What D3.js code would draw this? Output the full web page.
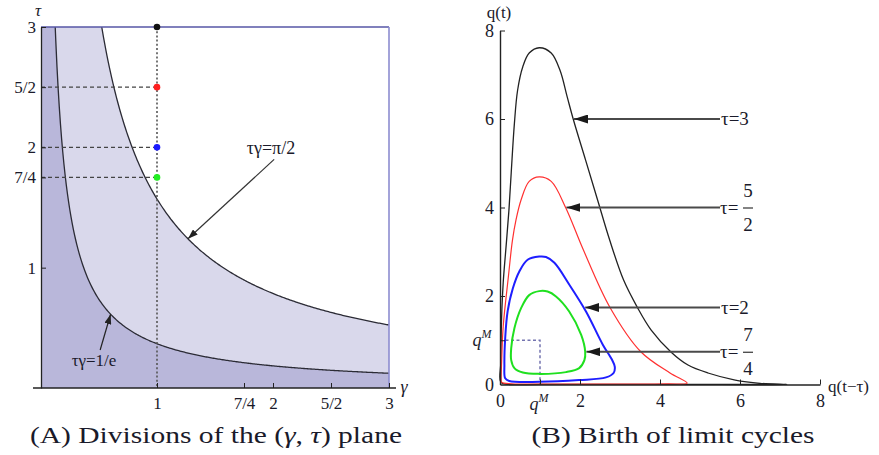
<!DOCTYPE html>
<html>
<head>
<meta charset="utf-8">
<script src="https://cdn.jsdelivr.net/npm/d3@7"></script>
<style>
  html, body { margin: 0; padding: 0; background: #fff; }
  svg { display: block; }
  text { font-family: "Liberation Serif", "Times New Roman", Times, serif; fill: #1a1a2a; }
</style>
</head>
<body>
<svg id="fig" width="879" height="455"></svg>
<script>
const SERIF = '"Liberation Serif", "Times New Roman", Times, serif';

// ---------- Panel A: divisions of the (gamma, tau) plane ----------
const gammaTicks = [1, 1.75, 2, 2.5, 3];
const gammaTickLabels = ["1", "7/4", "2", "5/2", "3"];
const tauTicks = [1, 1.75, 2, 2.5, 3];
const tauTickLabels = ["1", "7/4", "2", "5/2", "3"];
// boundary curves  tau * gamma = const
const boundaryConsts = [1 / Math.E, Math.PI / 2];
const boundaryLabels = ["τγ=1/e", "τγ=π/2"];
// delays marked on the line gamma = 1
const markedTau = [3, 2.5, 2, 1.75];
const markedColors = ["#111111", "#ff2020", "#1a1aff", "#22ee22"];

// ---------- Panel B: limit cycles in the (q(t-tau), q(t)) plane ----------
const qTicks = [0, 2, 4, 6, 8];
const qM = 1;
const cycleTau3 = [
  [0.98,7.61],[1.28,7.49],[1.5,7.1],[1.68,6.5],[1.83,6.0],[2.14,5.07],[2.44,4.17],
  [2.74,3.27],[3.09,2.36],[3.43,1.75],[3.78,1.23],[4.28,0.73],[4.7,0.44],[5.2,0.26],
  [5.88,0.1],[6.5,0.027],[7.17,0.002],[5.5,0.002],[3,0.002],[1,0.003],[0.2,0.005],
  [0.02,0.05],[0.02,0.5],[0.04,1.5],[0.08,2.3],[0.15,3.1],[0.22,3.9],[0.28,4.78],
  [0.36,5.9],[0.44,6.65],[0.57,7.18],[0.73,7.49]
];
const cycleTau52 = [
  [0.98,4.69],[1.28,4.59],[1.64,4.0],[2.08,3.05],[2.75,1.74],[3.52,0.74],[4.25,0.26],
  [4.68,0.03],[4.2,0.015],[3,0.01],[1.5,0.01],[0.3,0.015],[0.04,0.05],[0.03,0.12],
  [0.04,0.5],[0.08,1.31],[0.21,2.44],[0.31,3.25],[0.4,3.72],[0.53,4.18],[0.73,4.59]
];
const cycleTau2 = [
  [0.98,2.89],[1.15,2.88],[1.36,2.75],[1.73,2.26],[2.15,1.65],[2.57,0.9],[2.8,0.56],
  [2.87,0.4],[2.84,0.26],[2.65,0.16],[1.98,0.1],[0.98,0.06],[0.23,0.08],[0.13,0.14],
  [0.11,0.44],[0.13,1.05],[0.19,1.65],[0.32,2.17],[0.48,2.55],[0.69,2.82]
];
const cycleTau74 = [
  [0.98,2.11],[1.19,2.1],[1.4,1.99],[1.73,1.65],[2.03,1.12],[2.13,0.74],[2.11,0.55],
  [1.98,0.37],[1.65,0.28],[0.98,0.24],[0.57,0.27],[0.36,0.37],[0.28,0.55],[0.28,0.82],
  [0.36,1.27],[0.53,1.73],[0.73,2.02]
];
const cycleColors = ["#222222", "#ff3030", "#1e1eff", "#1fe01f"];
const cycleWidths = [1.3, 1.2, 2.0, 2.0];
// arrow annotations: value of tau, height of the arrow, point on the cycle
const arrowTauNum = ["3", "5", "2", "7"];
const arrowTauDen = [null, "2", null, "4"];
const arrowQt = [6, 4, 1.74, 0.74];
const arrowTipQ = [1.85, 1.66, 2.13, 2.16];
const arrowTailQ = 5.5;

const captions = ["(A) Divisions of the ", "(B) Birth of limit cycles"];

const svg = d3.select("#fig");
const defs = svg.append("defs");
function addMarker(id, len, wid, color) {
  defs.append("marker")
    .attr("id", id)
    .attr("markerUnits", "userSpaceOnUse")
    .attr("viewBox", `0 0 ${len} ${wid}`)
    .attr("refX", len).attr("refY", wid / 2)
    .attr("markerWidth", len).attr("markerHeight", wid)
    .attr("orient", "auto")
    .append("path")
    .attr("d", `M0,0L${len},${wid / 2}L0,${wid}Z`)
    .attr("fill", color);
}
addMarker("headA", 10, 7, "#222");
addMarker("headB", 14, 9, "#1a1a1a");

// ================= Panel A =================
const xL = d3.scaleLinear().domain([0, 3]).range([41, 389]);
const yL = d3.scaleLinear().domain([0, 3]).range([388, 27]);
const gA = svg.append("g");

// darker region below tau*gamma = 1/e fills the whole plot first
gA.append("rect")
  .attr("x", xL(0)).attr("y", yL(3))
  .attr("width", xL(3) - xL(0)).attr("height", yL(0) - yL(3))
  .attr("fill", "#b9b7da");

function curvePts(c) {
  const g0 = c / 3;
  const pts = [g0].concat(d3.range(g0 + 0.005, 3, 0.01)).concat([3]);
  return pts.map(g => [g, Math.min(3, c / g)]);
}
const areaAbove = d3.area()
  .x(d => xL(d[0])).y0(yL(3)).y1(d => yL(d[1]));
const lineXY = d3.line().x(d => xL(d[0])).y(d => yL(d[1]));

gA.append("path").datum(curvePts(boundaryConsts[0]))
  .attr("d", areaAbove).attr("fill", "#d9d8eb");
gA.append("path").datum(curvePts(boundaryConsts[1]))
  .attr("d", areaAbove).attr("fill", "#ffffff");

boundaryConsts.forEach(c => {
  gA.append("path").datum(curvePts(c))
    .attr("d", lineXY).attr("fill", "none")
    .attr("stroke", "#2b2b35").attr("stroke-width", 1.3);
});

// frame (top and right)
gA.append("line")
  .attr("x1", xL(0)).attr("x2", xL(3)).attr("y1", yL(3)).attr("y2", yL(3))
  .attr("stroke", "#5656a6").attr("stroke-width", 1.6);
gA.append("line")
  .attr("x1", xL(3)).attr("x2", xL(3)).attr("y1", yL(3)).attr("y2", yL(0))
  .attr("stroke", "#8c8cd0").attr("stroke-width", 1.6);

// guide lines at gamma = 1
gA.append("line")
  .attr("x1", xL(1)).attr("x2", xL(1)).attr("y1", yL(3)).attr("y2", yL(0))
  .attr("stroke", "#555").attr("stroke-width", 1.6).attr("stroke-dasharray", "2,2.2");
markedTau.slice(1).forEach(t => {
  gA.append("line")
    .attr("x1", xL(0)).attr("x2", xL(1)).attr("y1", yL(t)).attr("y2", yL(t))
    .attr("stroke", "#444").attr("stroke-width", 1.3).attr("stroke-dasharray", "4,3");
});
markedTau.forEach((t, i) => {
  gA.append("circle")
    .attr("cx", xL(1)).attr("cy", yL(t)).attr("r", 3.3)
    .attr("fill", markedColors[i]);
});

// axes
const axLeftA = d3.axisLeft(yL).tickValues(tauTicks)
  .tickFormat((d, i) => tauTickLabels[i]).tickSize(-5).tickSizeOuter(0).tickPadding(5);
const gyA = gA.append("g").attr("transform", `translate(${xL(0)},0)`).call(axLeftA);
const axBotA = d3.axisBottom(xL).tickValues(gammaTicks)
  .tickFormat((d, i) => gammaTickLabels[i]).tickSize(-5).tickSizeOuter(0).tickPadding(9);
const gxA = gA.append("g").attr("transform", `translate(0,${yL(0)})`).call(axBotA);
gxA.select(".domain").remove();
gA.append("line")
  .attr("x1", 33).attr("x2", 396).attr("y1", yL(0)).attr("y2", yL(0))
  .attr("stroke", "#222").attr("stroke-width", 1.3);
[gyA, gxA].forEach(g => {
  g.attr("font-family", SERIF);
  g.selectAll("text").style("font-family", SERIF).style("font-size", "17px").attr("fill", "#1a1a2a");
  g.selectAll("line").attr("stroke", "#222");
  g.select(".domain").attr("stroke", "#222").attr("stroke-width", 1.3);
});
gA.append("text").attr("x", 38).attr("y", 16).attr("text-anchor", "middle")
  .style("font-size", "17px").style("font-style", "italic").text("τ");
gA.append("text").attr("x", 404).attr("y", 393).attr("text-anchor", "middle")
  .style("font-size", "18px").style("font-style", "italic").text("γ");

// boundary annotations
const tipPi = 1.267, tipE = 0.6;
gA.append("line")
  .attr("x1", xL(2.01)).attr("y1", yL(1.9))
  .attr("x2", xL(tipPi)).attr("y2", yL(boundaryConsts[1] / tipPi))
  .attr("stroke", "#333").attr("stroke-width", 1.2).attr("marker-end", "url(#headA)");
gA.append("text").attr("x", 271).attr("y", 154).attr("text-anchor", "middle")
  .style("font-size", "18px").text(boundaryLabels[1]);
gA.append("line")
  .attr("x1", xL(0.51)).attr("y1", yL(0.316))
  .attr("x2", xL(tipE)).attr("y2", yL(boundaryConsts[0] / tipE))
  .attr("stroke", "#222").attr("stroke-width", 1.2).attr("marker-end", "url(#headA)");
gA.append("text").attr("x", 94).attr("y", 366).attr("text-anchor", "middle")
  .style("font-size", "17px").text(boundaryLabels[0]);

// ================= Panel B =================
const xR = d3.scaleLinear().domain([0, 8]).range([500, 820]);
const yR = d3.scaleLinear().domain([0, 8]).range([384.5, 30.5]);
const gB = svg.append("g");

// q^M guide
gB.append("path")
  .attr("d", `M${xR(0)},${yR(qM)}L${xR(qM)},${yR(qM)}L${xR(qM)},${yR(0)}`)
  .attr("fill", "none").attr("stroke", "#7474b0").attr("stroke-width", 1.5)
  .attr("stroke-dasharray", "3,2.5");

const cycleLine = d3.line()
  .x(d => xR(d[0])).y(d => yR(d[1]))
  .curve(d3.curveCatmullRomClosed.alpha(0.5));
[cycleTau3, cycleTau52, cycleTau2, cycleTau74].forEach((c, i) => {
  gB.append("path").datum(c).attr("d", cycleLine)
    .attr("fill", "none").attr("stroke", cycleColors[i])
    .attr("stroke-width", cycleWidths[i]).attr("stroke-linejoin", "round");
});

// axes
const axLeftB = d3.axisLeft(yR).tickValues([0, qM].concat(qTicks.slice(1)))
  .tickFormat(d => d === qM ? "" : d).tickSize(-5).tickSizeOuter(0).tickPadding(6);
const gyB = gB.append("g").attr("transform", `translate(${xR(0)},0)`).call(axLeftB);
const axBotB = d3.axisBottom(xR).tickValues([0, qM].concat(qTicks.slice(1)))
  .tickFormat(d => d === qM ? "" : d).tickSize(-5).tickSizeOuter(0).tickPadding(10);
const gxB = gB.append("g").attr("transform", `translate(0,${yR(0)})`).call(axBotB);
[gyB, gxB].forEach(g => {
  g.attr("font-family", SERIF);
  g.selectAll("text").style("font-family", SERIF).style("font-size", "18px").attr("fill", "#1a1a2a");
  g.selectAll("line").attr("stroke", "#222");
  g.select(".domain").attr("stroke", "#222").attr("stroke-width", 1.4);
});
gxB.selectAll(".tick").filter(d => d === 0).select("line").remove();
gyB.selectAll(".tick").filter(d => d === 0).select("line").remove();

function qMLabel(x, y) {
  const t = gB.append("text").attr("x", x).attr("y", y).attr("text-anchor", "middle");
  t.append("tspan").style("font-style", "italic").style("font-size", "18px").text("q");
  t.append("tspan").attr("dy", -8).style("font-style", "italic").style("font-size", "12px").text("M");
}
qMLabel(482, yR(qM) + 6);
qMLabel(539, 410);

gB.append("text").attr("x", 499).attr("y", 18).attr("text-anchor", "middle")
  .style("font-size", "17px").text("q(t)");
gB.append("text").attr("x", 828).attr("y", 392)
  .style("font-size", "17px").text("q(t−τ)");

// tau annotations
arrowQt.forEach((qt, i) => {
  const y = yR(qt);
  gB.append("line")
    .attr("x1", xR(arrowTailQ)).attr("y1", y)
    .attr("x2", xR(arrowTipQ[i])).attr("y2", y)
    .attr("stroke", "#4a4a4a").attr("stroke-width", 2.2).attr("marker-end", "url(#headB)");
  const tx = xR(arrowTailQ) + 1;
  if (arrowTauDen[i] === null) {
    gB.append("text").attr("x", tx).attr("y", y + 6)
      .style("font-size", "19px").text("τ=" + arrowTauNum[i]);
  } else {
    gB.append("text").attr("x", tx - 1).attr("y", y + 6)
      .style("font-size", "19px").text("τ=");
    const fx = tx + 27;
    gB.append("text").attr("x", fx).attr("y", y - 11).attr("text-anchor", "middle")
      .style("font-size", "19px").text(arrowTauNum[i]);
    gB.append("line").attr("x1", fx - 5).attr("x2", fx + 5).attr("y1", y + 0.5).attr("y2", y + 0.5)
      .attr("stroke", "#333").attr("stroke-width", 1.2);
    gB.append("text").attr("x", fx).attr("y", y + 23).attr("text-anchor", "middle")
      .style("font-size", "19px").text(arrowTauDen[i]);
  }
});

// ================= captions =================
const capA = svg.append("text").attr("x", 216).attr("y", 443).attr("text-anchor", "middle")
  .style("font-size", "23px");
capA.append("tspan").text(captions[0] + "(");
capA.append("tspan").style("font-style", "italic").text("γ");
capA.append("tspan").text(", ");
capA.append("tspan").style("font-style", "italic").text("τ");
capA.append("tspan").text(") plane");
capA.attr("textLength", 372).attr("lengthAdjust", "spacingAndGlyphs");

svg.append("text").attr("x", 673).attr("y", 443).attr("text-anchor", "middle")
  .style("font-size", "23px")
  .attr("textLength", 283).attr("lengthAdjust", "spacingAndGlyphs")
  .text(captions[1]);
</script>
</body>
</html>
